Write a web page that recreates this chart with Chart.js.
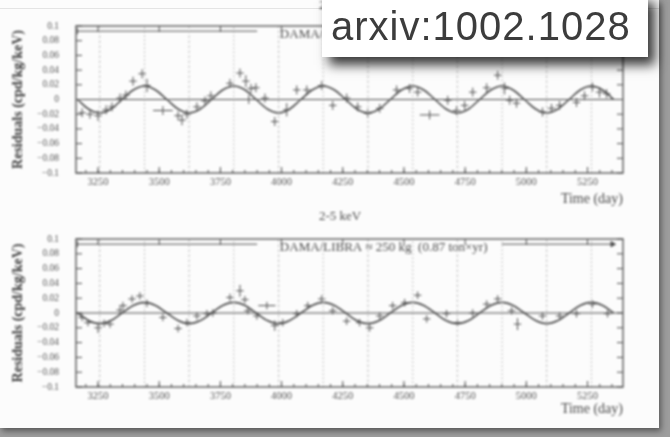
<!DOCTYPE html>
<html>
<head>
<meta charset="utf-8">
<script src="https://cdn.jsdelivr.net/npm/chart.js@4.4.1/dist/chart.umd.min.js"></script>
<style>
  html, body { margin: 0; padding: 0; }
  body { width: 670px; height: 437px; background: #9d9d9d; position: relative; overflow: hidden; }
  #sheet { position: absolute; left: 0; top: 0; width: 659px; height: 428px; background: #fcfcfc;
           box-shadow: 2px 3px 6px rgba(0,0,0,0.45); }
  #edge { position: absolute; left: 0; top: 8px; width: 659px; height: 1px; background: #e4e4e4; }
  canvas { position: absolute; left: 0; filter: blur(1px); }
  #c1 { top: 0; }
  #c2 { top: 205px; }
  #tag { position: absolute; left: 322px; top: -6px; width: 326px; height: 63px; background: #fff;
         box-shadow: 7px 8px 11px rgba(0,0,0,0.78); }
  #tag span { position: absolute; left: 9px; top: 12px; font: 40px/40px "Liberation Sans", Arial, sans-serif;
              letter-spacing: 1px; color: #3c3c3c; white-space: nowrap; filter: blur(0.4px); }
</style>
</head>
<body>
<div id="sheet"></div>
<div id="edge"></div>
<canvas id="c1" width="670" height="210"></canvas>
<canvas id="c2" width="670" height="215"></canvas>
<div id="tag"><span>arxiv:1002.1028</span></div>
<script>
// ---- axes ----
const xMin = 3160, xMax = 5395;
const yMin = -0.1, yMax = 0.1;
const xTicks = [3250, 3500, 3750, 4000, 4250, 4500, 4750, 5000, 5250];
const yTicks = [-0.1, -0.08, -0.06, -0.04, -0.02, 0, 0.02, 0.04, 0.06, 0.08, 0.1];
const yTickLabels = ['\u22120.1', '\u22120.08', '\u22120.06', '\u22120.04', '\u22120.02', '0',
                     '0.02', '0.04', '0.06', '0.08', '0.1'];

// June 2nd (expected maximum) and December 2nd (expected minimum) of each year
const juneDays = [3440, 3805, 4170, 4536, 4901, 5266];
const decDays  = [3257, 3622, 3988, 4353, 4718, 5083];

// ---- 2-4 keV residuals ----
const topDays = [3185, 3217, 3250, 3283, 3307, 3340, 3364, 3393, 3430, 3450, 3515, 3577, 3593, 3613,
  3654, 3687, 3711, 3789, 3830, 3854, 3866, 3875, 3895, 3932, 3972, 4021, 4062, 4103, 4164, 4209,
  4266, 4311, 4352, 4401, 4470, 4523, 4556, 4605, 4679, 4715, 4748, 4781, 4838, 4883, 4911, 4932,
  4960, 5066, 5103, 5136, 5205, 5238, 5270, 5299, 5328];
const topValues = [-0.018, -0.02, -0.022, -0.014, -0.01, 0.002, 0.006, 0.025, 0.035, 0.019, -0.015,
  -0.022, -0.028, -0.02, -0.01, -0.002, 0.005, 0.022, 0.036, 0.025, 0.0, 0.015, 0.016, 0.002, -0.03,
  -0.014, 0.013, 0.013, 0.019, -0.008, 0.002, -0.01, -0.019, -0.012, 0.013, 0.015, 0.01, -0.021,
  -0.001, -0.015, -0.008, 0.01, 0.016, 0.033, 0.015, -0.001, -0.005, -0.017, -0.012, -0.008, -0.004,
  0.005, 0.017, 0.01, 0.008];
const topDayErr = [15, 15, 15, 15, 15, 15, 15, 15, 15, 15, 40, 15, 15, 15, 15, 15, 15, 15, 15, 15,
  15, 15, 15, 15, 15, 15, 15, 15, 15, 15, 15, 15, 15, 15, 15, 15, 15, 40, 15, 15, 15, 15, 15, 15,
  15, 15, 15, 15, 15, 15, 15, 15, 15, 15, 15];
const topValErr = [0.006, 0.006, 0.007, 0.006, 0.006, 0.006, 0.006, 0.006, 0.006, 0.009, 0.006, 0.006,
  0.007, 0.006, 0.006, 0.006, 0.006, 0.006, 0.006, 0.008, 0.006, 0.006, 0.006, 0.006, 0.006, 0.009,
  0.006, 0.006, 0.006, 0.006, 0.006, 0.006, 0.006, 0.006, 0.006, 0.006, 0.006, 0.006, 0.006, 0.006,
  0.006, 0.006, 0.006, 0.006, 0.008, 0.006, 0.006, 0.006, 0.006, 0.006, 0.006, 0.006, 0.006, 0.007,
  0.006];

// ---- 2-5 keV residuals ----
const botDays = [3185, 3209, 3250, 3275, 3299, 3340, 3352, 3389, 3421, 3450, 3515, 3577, 3613, 3654,
  3695, 3719, 3789, 3830, 3850, 3862, 3899, 3940, 3972, 4005, 4062, 4107, 4164, 4209, 4266, 4319,
  4360, 4401, 4454, 4503, 4556, 4593, 4674, 4719, 4781, 4838, 4883, 4940, 4964, 5066, 5136, 5205,
  5270, 5332];
const botValues = [-0.006, -0.013, -0.02, -0.014, -0.015, 0.004, 0.01, 0.019, 0.023, 0.013, -0.006,
  -0.021, -0.013, -0.004, -0.001, 0.0, 0.021, 0.03, 0.018, 0.003, -0.004, 0.01, -0.017, -0.013,
  -0.001, 0.01, 0.019, 0.003, -0.011, -0.013, -0.02, -0.004, 0.01, 0.014, 0.024, -0.008, -0.001,
  -0.013, 0.0, 0.012, 0.019, 0.003, -0.015, -0.004, -0.004, -0.001, 0.012, -0.001];
const botDayErr = [15, 15, 15, 15, 15, 15, 15, 15, 15, 15, 15, 15, 15, 15, 15, 15, 15, 15, 15, 15,
  15, 35, 15, 15, 15, 15, 15, 15, 15, 15, 15, 15, 15, 15, 15, 15, 15, 15, 15, 15, 15, 15, 15, 15,
  15, 15, 15, 15];
const botValErr = [0.005, 0.005, 0.007, 0.005, 0.005, 0.005, 0.005, 0.005, 0.005, 0.005, 0.005, 0.005,
  0.005, 0.005, 0.005, 0.005, 0.005, 0.008, 0.005, 0.005, 0.005, 0.005, 0.007, 0.005, 0.005, 0.005,
  0.005, 0.005, 0.005, 0.005, 0.005, 0.005, 0.005, 0.005, 0.005, 0.005, 0.005, 0.005, 0.005, 0.005,
  0.005, 0.005, 0.008, 0.005, 0.005, 0.005, 0.005, 0.005];

// ---- cosine fits, sampled every eighth of a year ----
const fitDays = [3166, 3211, 3257, 3303, 3348, 3394, 3440, 3485, 3531, 3577, 3622, 3668, 3714, 3759,
  3805, 3851, 3896, 3942, 3988, 4033, 4079, 4125, 4170, 4216, 4262, 4307, 4353, 4399, 4444, 4490,
  4536, 4581, 4627, 4672, 4718, 4764, 4809, 4855, 4901, 4946, 4992, 5038, 5083, 5129, 5175, 5220,
  5266, 5312, 5357];
const fitTop = [0, -0.0129, -0.0183, -0.0129, 0, 0.0129, 0.0183, 0.0129,
  0, -0.0129, -0.0183, -0.0129, 0, 0.0129, 0.0183, 0.0129,
  0, -0.0129, -0.0183, -0.0129, 0, 0.0129, 0.0183, 0.0129,
  0, -0.0129, -0.0183, -0.0129, 0, 0.0129, 0.0183, 0.0129,
  0, -0.0129, -0.0183, -0.0129, 0, 0.0129, 0.0183, 0.0129,
  0, -0.0129, -0.0183, -0.0129, 0, 0.0129, 0.0183, 0.0129, 0];
const fitBottom = [0, -0.0102, -0.0144, -0.0102, 0, 0.0102, 0.0144, 0.0102,
  0, -0.0102, -0.0144, -0.0102, 0, 0.0102, 0.0144, 0.0102,
  0, -0.0102, -0.0144, -0.0102, 0, 0.0102, 0.0144, 0.0102,
  0, -0.0102, -0.0144, -0.0102, 0, 0.0102, 0.0144, 0.0102,
  0, -0.0102, -0.0144, -0.0102, 0, 0.0102, 0.0144, 0.0102,
  0, -0.0102, -0.0144, -0.0102, 0, 0.0102, 0.0144, 0.0102, 0];

// ---- running period of the set-up ----
const spanStart = 3166, spanEnd = 5352;
const spanGap = [3900, 4900];
const spanLevel = 0.093;
const spanText = 'DAMA/LIBRA \u2248 250 kg  (0.87 ton\u00d7yr)';
const spanTextDay = 3993;

const INK = '#4e4e4e';
const SERIF = '"Liberation Serif", "Times New Roman", serif';

const framePlugin = {
  id: 'frame',
  afterDatasetsDraw(chart) {
    const { ctx, chartArea: a, scales: { x, y } } = chart;
    const seg = (x1, y1, x2, y2) => { ctx.beginPath(); ctx.moveTo(x1, y1); ctx.lineTo(x2, y2); ctx.stroke(); };
    ctx.save();
    ctx.strokeStyle = INK;
    ctx.lineWidth = 1.3;
    ctx.strokeRect(a.left, a.top, a.right - a.left, a.bottom - a.top);
    ctx.lineWidth = 1;
    yTicks.forEach(v => { const py = y.getPixelForValue(v); seg(a.left, py, a.left + 6, py); seg(a.right, py, a.right - 6, py); });
    xTicks.forEach(v => { const px = x.getPixelForValue(v); seg(px, a.bottom, px, a.bottom - 6); seg(px, a.top, px, a.top + 6); });
    for (let v = 3200; v < xMax; v += 50) {
      const px = x.getPixelForValue(v);
      seg(px, a.bottom, px, a.bottom - 3);
    }
    ctx.restore();
  }
};

const textPlugin = {
  id: 'panelText',
  afterDatasetsDraw(chart, args, o) {
    const { ctx, scales: { x, y } } = chart;
    ctx.save();
    ctx.fillStyle = INK;
    ctx.font = '13px ' + SERIF;
    ctx.textBaseline = 'middle';
    ctx.textAlign = 'left';
    ctx.fillText(spanText, x.getPixelForValue(spanTextDay), y.getPixelForValue(spanLevel) + 3);
    ctx.textAlign = 'center';
    ctx.fillText(o.title, o.titleX, o.titleY);
    ctx.restore();
  }
};

function buildPanel(el, p) {
  const vBars = [], hBars = [];
  p.days.forEach((d, i) => {
    const v = p.values[i], e = p.valErr[i], h = p.dayErr[i];
    vBars.push({ x: d, y: v - e }, { x: d, y: v + e }, { x: d, y: null });
    hBars.push({ x: d - h, y: v }, { x: d + h, y: v }, { x: d, y: null });
  });
  const markers = list => list.flatMap(d => [{ x: d, y: yMin }, { x: d, y: yMax }, { x: d, y: null }]);
  const fit = fitDays.map((d, i) => ({ x: d, y: p.fit[i] }));
  const span = [{ x: spanStart, y: spanLevel }, { x: spanGap[0], y: spanLevel }, { x: spanGap[0], y: null },
                { x: spanGap[1], y: spanLevel }, { x: spanEnd, y: spanLevel }];
  const line = (data, extra) => Object.assign({ data, showLine: true, pointRadius: 0, borderColor: INK,
    borderWidth: 1, fill: false }, extra);

  return new Chart(el, {
    type: 'scatter',
    data: {
      datasets: [
        line(markers(juneDays), { borderDash: [1.5, 2.5], borderColor: '#b2b2b2' }),
        line(markers(decDays), { borderDash: [2.5, 2.5], borderColor: '#bcbcbc' }),
        line([{ x: xMin, y: 0 }, { x: xMax, y: 0 }], { borderWidth: 1.2 }),
        line(fit, { borderWidth: 1.6, cubicInterpolationMode: 'monotone' }),
        line(vBars, { borderWidth: 1 }),
        line(hBars, { borderWidth: 1 }),
        line(span, {
          borderWidth: 1,
          clip: false,
          pointRadius: c => (c.dataIndex === 0 || c.dataIndex === 4) ? 3 : 0,
          pointStyle: c => c.dataIndex === 0 ? 'line' : 'triangle',
          rotation: 90,
          pointBackgroundColor: INK,
          pointBorderColor: INK
        })
      ]
    },
    options: {
      responsive: false,
      animation: false,
      events: [],
      layout: { padding: { left: 0, right: 47, top: p.padTop, bottom: 0 } },
      plugins: {
        legend: { display: false },
        tooltip: { enabled: false },
        panelText: { title: p.title, titleX: 340, titleY: p.titleY }
      },
      scales: {
        x: {
          type: 'linear', min: xMin, max: xMax,
          afterBuildTicks: s => { s.ticks = xTicks.map(v => ({ value: v })); },
          afterFit: s => { s.height = p.xAxisHeight; },
          grid: { display: false, drawTicks: false },
          border: { display: false },
          ticks: { color: '#555', font: { family: SERIF, size: 10.5 }, padding: 3, maxRotation: 0,
                   autoSkip: false, callback: v => String(v) },
          title: { display: true, text: 'Time (day)', align: 'end', color: '#4a4a4a',
                   font: { family: SERIF, size: 14 }, padding: { top: 0, bottom: 2 } }
        },
        y: {
          min: yMin, max: yMax,
          afterBuildTicks: s => { s.ticks = yTicks.map(v => ({ value: v })); },
          afterFit: s => { s.width = 76; },
          grid: { display: false, drawTicks: false },
          border: { display: false },
          ticks: { color: '#555', font: { family: SERIF, size: 9.5 }, padding: 17,
                   callback: (v, i) => yTickLabels[i] },
          title: { display: true, text: 'Residuals (cpd/kg/keV)', color: '#3e3e3e',
                   font: { family: SERIF, size: 14, weight: 'bold' }, padding: { top: 10, bottom: 0 } }
        }
      }
    },
    plugins: [framePlugin, textPlugin]
  });
}

buildPanel(document.getElementById('c1'), {
  days: topDays, values: topValues, dayErr: topDayErr, valErr: topValErr, fit: fitTop,
  title: '2-4 keV', titleY: 6, padTop: 26, xAxisHeight: 37
});
buildPanel(document.getElementById('c2'), {
  days: botDays, values: botValues, dayErr: botDayErr, valErr: botValErr, fit: fitBottom,
  title: '2-5 keV', titleY: 12, padTop: 34, xAxisHeight: 33
});
</script>
</body>
</html>
